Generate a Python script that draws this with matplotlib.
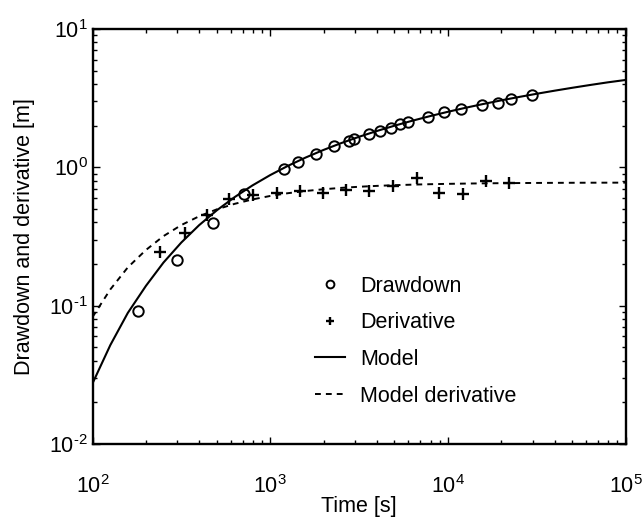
import matplotlib
matplotlib.use("Agg")
import matplotlib.pyplot as plt
from matplotlib.ticker import FuncFormatter
import math

plt.rcParams['font.family'] = ['Liberation Sans', 'DejaVu Sans']
plt.rcParams['mathtext.fontset'] = 'custom'
plt.rcParams['mathtext.rm'] = 'Liberation Sans'
plt.rcParams['mathtext.it'] = 'Liberation Sans:italic'
plt.rcParams['mathtext.bf'] = 'Liberation Sans:bold'
plt.rcParams['axes.unicode_minus'] = False

# Observed data
drawdown_t = [180, 298, 476, 717, 1195, 1429, 1800, 2280, 2790, 2980, 3590, 4160,
              4800, 5350, 5950, 7780, 9570, 11900, 15600, 19100, 22700, 29600]
drawdown_s = [0.0914, 0.213, 0.398, 0.641, 0.972, 1.098, 1.248, 1.433, 1.550, 1.594, 1.733, 1.839,
              1.933, 2.046, 2.136, 2.298, 2.511, 2.627, 2.822, 2.932, 3.102, 3.333]

deriv_t = [241, 330, 440, 590, 798, 1094, 1475, 1995, 2655, 3620, 4900, 6680,
           8970, 12240, 16300, 22200]
deriv_s = [0.245, 0.333, 0.452, 0.587, 0.631, 0.649, 0.677, 0.655, 0.685, 0.677, 0.732, 0.841,
           0.655, 0.641, 0.796, 0.774]

# Model curves
model_t = [100, 126, 158, 200, 251, 316, 398, 501, 631, 794,
           1000, 1259, 1585, 1995, 2512, 3162, 3981, 5012, 6310, 7943,
           10000, 12589, 15849, 19953, 25119, 31623, 39811, 50119, 63096, 79433, 100000]
model_s = [0.0274, 0.0519, 0.0886, 0.1392, 0.2051, 0.2859, 0.3816, 0.4892, 0.6092, 0.7394,
           0.8786, 1.0251, 1.1777, 1.3353, 1.4971, 1.6624, 1.8302, 2.0004, 2.1722, 2.3455,
           2.5199, 2.6953, 2.8713, 3.0480, 3.2250, 3.4025, 3.5802, 3.7582, 3.9363, 4.1146, 4.2800]
model_d = [0.0827, 0.1311, 0.1891, 0.2528, 0.3184, 0.3825, 0.4426, 0.4969, 0.5447, 0.5859,
           0.6209, 0.6502, 0.6745, 0.6943, 0.7105, 0.7237, 0.7343, 0.7428, 0.7497, 0.7552,
           0.7596, 0.7631, 0.7659, 0.7682, 0.7699, 0.7713, 0.7724, 0.7733, 0.7741, 0.7746, 0.7751]

FS = 15.5

fig = plt.figure(figsize=(6.44, 5.21), dpi=100)
ax = fig.add_axes([92.5/644, 1-444/521, (625.5-92.5)/644, (444-29)/521])

ax.plot(drawdown_t, drawdown_s, linestyle='none', marker='o', markersize=7.5,
        markerfacecolor='none', markeredgecolor='black', markeredgewidth=1.4, label='Drawdown')
ax.plot(deriv_t, deriv_s, linestyle='none', marker='+', markersize=8,
        color='black', markeredgewidth=1.7, label='Derivative')
ax.plot(model_t, model_s, color='black', lw=1.5, label='Model')
ax.plot(model_t, model_d, color='black', lw=1.4, linestyle=(0, (3, 2.6)), label='Model derivative')

ax.set_xscale('log')
ax.set_yscale('log')
ax.set_xlim(1e2, 1e5)
ax.set_ylim(1e-2, 1e1)


def pow10(v, pos):
    e = int(round(math.log10(v)))
    if e < 0:
        return r'$\mathdefault{10^{\text{-}%d}}$' % (-e)
    return r'$\mathdefault{10^{%d}}$' % e


ax.xaxis.set_major_formatter(FuncFormatter(pow10))
ax.yaxis.set_major_formatter(FuncFormatter(pow10))

for s in ax.spines.values():
    s.set_linewidth(1.7)
ax.tick_params(which='both', direction='in', top=True, right=True, labelsize=FS, width=1.0)
ax.tick_params(which='major', length=5)
ax.tick_params(which='minor', length=3)
ax.tick_params(axis='x', which='major', pad=22.5)
ax.tick_params(axis='y', which='major', pad=3.5)

ax.set_xlabel('Time [s]', fontsize=FS)
ax.set_ylabel('Drawdown and derivative [m]', fontsize=FS)
ax.xaxis.set_label_coords(0.5, -0.125)
ax.yaxis.set_label_coords(-0.108, 0.5)

leg = ax.legend(loc='upper left', bbox_to_anchor=(315/644, 1-276/521), bbox_transform=fig.transFigure,
                frameon=False, fontsize=FS, handlelength=1.4, handletextpad=0.7,
                labelspacing=0.72, borderpad=0, borderaxespad=0, markerscale=0.75)

fig.savefig('out.png', dpi=100)
